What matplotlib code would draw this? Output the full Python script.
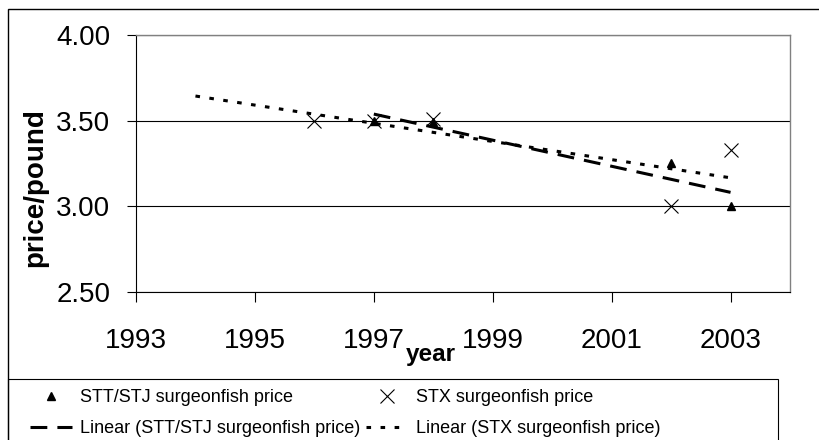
import matplotlib.pyplot as plt
import numpy as np
from matplotlib.patches import Rectangle

plt.rcParams['font.family'] = ['Liberation Sans', 'DejaVu Sans']

# surgeonfish price per pound by year
stt_years = [1997, 1998, 2002, 2003]
stt_price = [3.50, 3.49, 3.25, 3.00]

stx_years = [1996, 1997, 1998, 2002, 2003]
stx_price = [3.50, 3.50, 3.51, 3.00, 3.33]

# trend line spans (STX trend is forecast back two years)
stt_trend_span = (1997, 2003)
stx_trend_span = (1994, 2003)

x_ticks = [1993, 1995, 1997, 1999, 2001, 2003]
y_ticks = [2.50, 3.00, 3.50, 4.00]

W, H = 820, 440
fig = plt.figure(figsize=(W / 100, H / 100), dpi=100)

# chart frame (runs off the right and bottom edges)
fig.patches.append(Rectangle((8 / W, -0.2), 1.2, (H - 9) / H + 0.2,
                             transform=fig.transFigure, fill=False,
                             edgecolor='black', lw=1.0))

ax = fig.add_axes([136 / W, 1 - 292 / H, (790 - 136) / W, (292 - 35) / H])

ax.plot(stt_years, stt_price, linestyle='none', marker='^', ms=6,
        color='black', label='STT/STJ surgeonfish price', zorder=4)
ax.plot(stx_years, stx_price, linestyle='none', marker='x', ms=9.5,
        mew=0.8, color='black', label='STX surgeonfish price', zorder=4)

# least-squares trend lines
k1, b1 = np.polyfit(stt_years, stt_price, 1)
xs = np.array(stt_trend_span)
ax.plot(xs, k1 * xs + b1, color='black', lw=2.2,
        linestyle=(0, (5.5, 3.3)), dash_capstyle='butt',
        label='Linear (STT/STJ surgeonfish price)', zorder=3)

k2, b2 = np.polyfit(stx_years, stx_price, 1)
xs = np.array(stx_trend_span)
ax.plot(xs, k2 * xs + b2, color='black', lw=2.2,
        linestyle=(0, (1.5, 3.1)), dash_capstyle='butt',
        label='Linear (STX surgeonfish price)', zorder=3)

ax.set_xlim(1993, 2004)
ax.set_ylim(2.5, 4.0)
ax.set_xticks(x_ticks)
ax.set_yticks(y_ticks)
ax.set_yticklabels([f'{v:.2f}' for v in y_ticks])
ax.tick_params(axis='y', direction='out', length=6.5, width=0.8,
               pad=12, labelsize=20)
ax.tick_params(axis='x', direction='out', length=7.2, width=0.8,
               pad=18.5, labelsize=20)
ax.yaxis.grid(True, color='black', lw=0.8)
ax.set_axisbelow(True)

for side in ('top', 'right'):
    ax.spines[side].set_color('#808080')
    ax.spines[side].set_linewidth(1.0)
for side in ('left', 'bottom'):
    ax.spines[side].set_color('black')
    ax.spines[side].set_linewidth(0.8)

ax.set_xlabel('year', fontsize=17.5, fontweight='bold', va='baseline')
ax.xaxis.set_label_coords((431 - 136) / (790 - 136), (292 - 361) / (292 - 35))
ax.set_ylabel('price/pound', fontsize=20, fontweight='bold', va='center')
ax.yaxis.set_label_coords((35 - 136) / (790 - 136), (292 - 188) / (292 - 35))

# legend box, bottom edge off the canvas
fig.patches.append(Rectangle((8 / W, -0.2), (778 - 8) / W, (H - 379) / H + 0.2,
                             transform=fig.transFigure, fill=False,
                             edgecolor='black', lw=0.8))

h, l = ax.get_legend_handles_labels()
order = [0, 2, 1, 3]
fig.legend([h[i] for i in order], [l[i] for i in order],
           loc='upper left', bbox_to_anchor=(30 / W, 1 - 389 / H),
           ncol=2, frameon=False, fontsize=13, borderpad=0,
           borderaxespad=0, handlelength=2.33, handletextpad=0.44,
           columnspacing=0.3, labelspacing=0.8, numpoints=1)

fig.savefig('out.png', dpi=100, facecolor='white')
